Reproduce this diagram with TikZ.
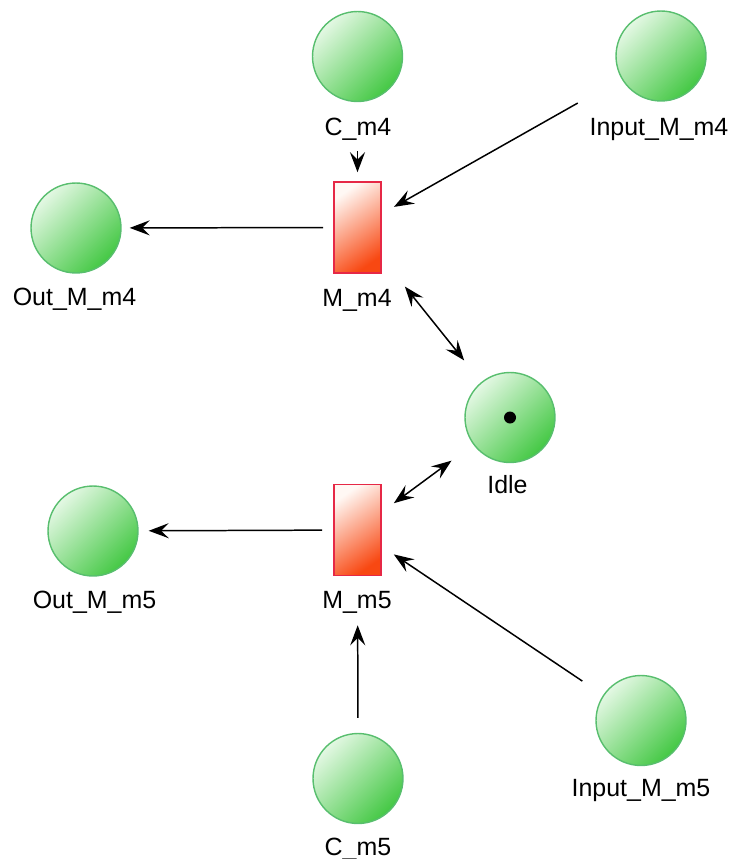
\documentclass[tikz,border=0pt]{standalone}
\usepackage{fontspec}
\setmainfont{Liberation Sans}
\usetikzlibrary{arrows.meta,positioning}
\definecolor{plight}{RGB}{228,248,228}
\definecolor{pdark}{RGB}{68,200,68}
\definecolor{pedge}{RGB}{88,190,110}
\definecolor{tlight}{RGB}{255,248,244}
\definecolor{tdark}{RGB}{248,72,18}
\definecolor{tedge}{RGB}{230,40,70}

\begin{document}
\begin{tikzpicture}[x=0.02cm,y=-0.02cm,
	place/.style={circle,draw=pedge,line width=0.8pt,minimum size=1.8cm,inner sep=0pt,
		top color=plight,bottom color=pdark,shading angle=45},
	trans/.style={rectangle,draw=tedge,line width=0.9pt,minimum width=0.94cm,minimum height=1.82cm,
		inner sep=0pt,top color=tlight,bottom color=tdark,shading angle=35},
	lbl/.style={anchor=base,inner sep=0pt,font=\fontsize{14.2}{17}\selectfont},
	tip/.tip={Stealth[length=0.4cm,width=0.3cm,inset=0.15cm]},
	arc/.style={-tip,line width=0.85pt},
	dblarc/.style={tip-tip,line width=0.85pt}]
	\useasboundingbox (0,0) rectangle (732,859);
	% places
	\node[place] (C4) at (357.5,56.5) {};
	\node[place] (InM4) at (661,56) {};
	\node[place] (OutM4) at (76,228) {};
	\node[place] (Idle) at (510,417.5) {};
	\node[place] (OutM5) at (93,531) {};
	\node[place] (C5) at (358,778.5) {};
	\node[place] (InM5) at (641,720.5) {};
	\fill (Idle) circle[radius=0.12cm];
	% transitions
	\node[trans] (M4) at (357.5,227.5) {};
	\node[trans] (M5) at (357.5,530) {};
	% labels
	\node[lbl] (lC4) at (358,135) {C\_m4};
	\node[lbl] (lInM4) at (659,135) {Input\_M\_m4};
	\node[lbl] (lOutM4) at (74.5,305) {Out\_M\_m4};
	\node[lbl] (lM4) at (357,306) {M\_m4};
	\node[lbl] (lIdle) at (507.5,493) {Idle};
	\node[lbl] (lOutM5) at (94.5,608) {Out\_M\_m5};
	\node[lbl] (lM5) at (357,608) {M\_m5};
	\node[lbl] (lC5) at (358,855) {C\_m5};
	\node[lbl] (lInM5) at (641,796) {Input\_M\_m5};
	% arcs
	\path[arc]
	(C4) edge[shorten <=0.98cm,shorten >=0.18cm] (M4)
	(InM4) edge[shorten <=1.0cm,shorten >=0.28cm] (M4)
	(M4) edge[shorten <=0.2cm,shorten >=0.16cm] (OutM4)
	(M4) edge[dblarc,shorten <=0.74cm,shorten >=0.55cm] (Idle)
	(Idle) edge[dblarc,shorten <=0.54cm,shorten >=0.3cm] (M5)
	(InM5) edge[shorten <=0.5cm,shorten >=0.29cm] (M5)
	(C5) edge[shorten <=0.3cm,shorten >=0.98cm] (M5)
	(M5) edge[shorten <=0.22cm,shorten >=0.2cm] (OutM5);
\end{tikzpicture}
\end{document}
